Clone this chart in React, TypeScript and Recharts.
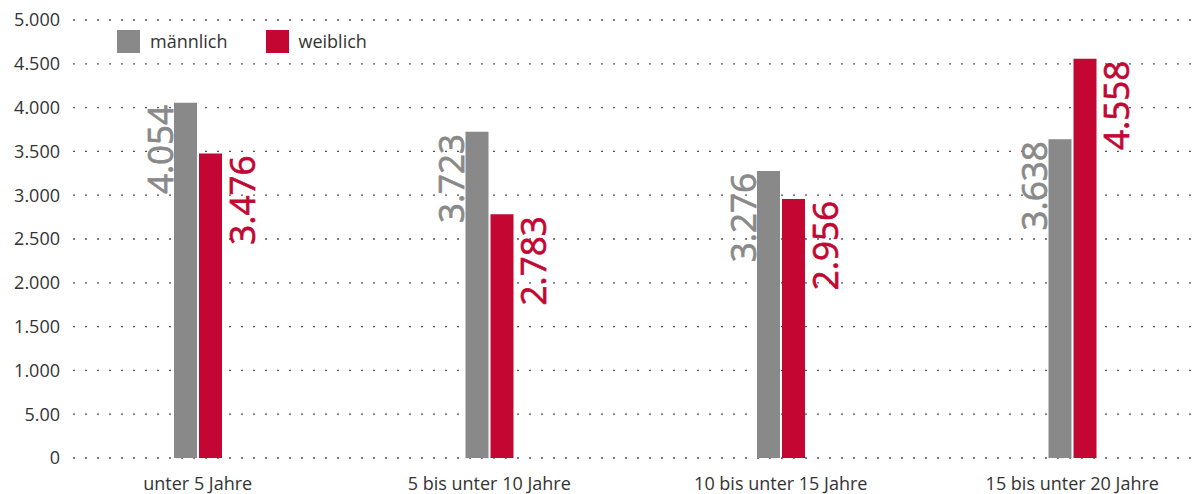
import { Bar, BarChart, CartesianGrid, LabelList, Legend, XAxis, YAxis } from 'recharts'

const categories = ['unter 5 Jahre', '5 bis unter 10 Jahre', '10 bis unter 15 Jahre', '15 bis unter 20 Jahre']
const maennlich = [4054, 3723, 3276, 3638]
const weiblich = [3476, 2783, 2956, 4558]
const yTicks = [0, 500, 1000, 1500, 2000, 2500, 3000, 3500, 4000, 4500, 5000]
const yTickLabels = ['0', '5.00', '1.000', '1.500', '2.000', '2.500', '3.000', '3.500', '4.000', '4.500', '5.000']

const GREY = '#898989'
const RED = '#c30632'
const FONT = '"Open Sans", "Noto Sans", sans-serif'

const series = [
  { key: 'maennlich', name: 'männlich', color: GREY },
  { key: 'weiblich', name: 'weiblich', color: RED },
]

const chartData = categories.map((category, i) => ({
  category,
  maennlich: maennlich[i],
  weiblich: weiblich[i],
}))

const formatDe = (v: number) => String(v).replace(/\B(?=(\d{3})+(?!\d))/g, '.')

// rotated value label, sits left of the grey bar / right of the red one
function SideLabel({ x, y, width, value, side, color }: any) {
  const bx = Number(x)
  const by = Number(y)
  const tx = side === 'left' ? bx - 1 : bx + Number(width) + 33
  const ty = by + 2
  return (
    <text
      x={tx}
      y={ty}
      transform={`rotate(-90 ${tx} ${ty})`}
      textAnchor="end"
      fill={color}
      stroke={color}
      strokeWidth={0.7}
      fontSize={35}
      fontFamily={FONT}
    >
      {formatDe(Number(value))}
    </text>
  )
}

function ChartLegend() {
  return (
    <div style={{ display: 'flex', alignItems: 'center', fontFamily: FONT, fontSize: 18, color: '#333' }}>
      {series.map((s) => (
        <div key={s.key} style={{ display: 'flex', alignItems: 'center', marginRight: 38 }}>
          <span style={{ width: 23, height: 23, background: s.color, marginRight: 10, display: 'inline-block' }} />
          <span>{s.name}</span>
        </div>
      ))}
    </div>
  )
}

export default function App() {
  return (
    <div style={{ position: 'absolute', top: 0, left: 0, width: 1201, height: 494, background: '#fff' }}>
      <BarChart
        width={1201}
        height={494}
        data={chartData}
        margin={{ top: 20, right: 0, left: 0, bottom: 0 }}
        barSize={23}
        barGap={2}
      >
        <CartesianGrid vertical={false} stroke="#555" strokeWidth={1.3} strokeDasharray="2 10" />
        <XAxis
          dataKey="category"
          axisLine={false}
          tickLine={false}
          height={36}
          tickMargin={13}
          padding={{ left: -21, right: -17 }}
          tick={{ fontSize: 18, fill: '#333', fontFamily: FONT }}
          interval={0}
        />
        <YAxis
          width={73}
          domain={[0, 5000]}
          ticks={yTicks}
          axisLine={false}
          tickLine={false}
          tickMargin={7}
          tick={{ fontSize: 18, fill: '#333', fontFamily: FONT }}
          tickFormatter={(v: number) => yTickLabels[yTicks.indexOf(v)]}
        />
        <Legend
          verticalAlign="middle"
          layout="horizontal"
          content={() => <ChartLegend />}
          wrapperStyle={{ top: 29, left: 117, width: 'auto' }}
        />
        <Bar dataKey="maennlich" name="männlich" fill={GREY} isAnimationActive={false}>
          <LabelList dataKey="maennlich" content={(p: any) => <SideLabel {...p} side="left" color={GREY} />} />
        </Bar>
        <Bar dataKey="weiblich" name="weiblich" fill={RED} isAnimationActive={false}>
          <LabelList dataKey="weiblich" content={(p: any) => <SideLabel {...p} side="right" color={RED} />} />
        </Bar>
      </BarChart>
    </div>
  )
}
